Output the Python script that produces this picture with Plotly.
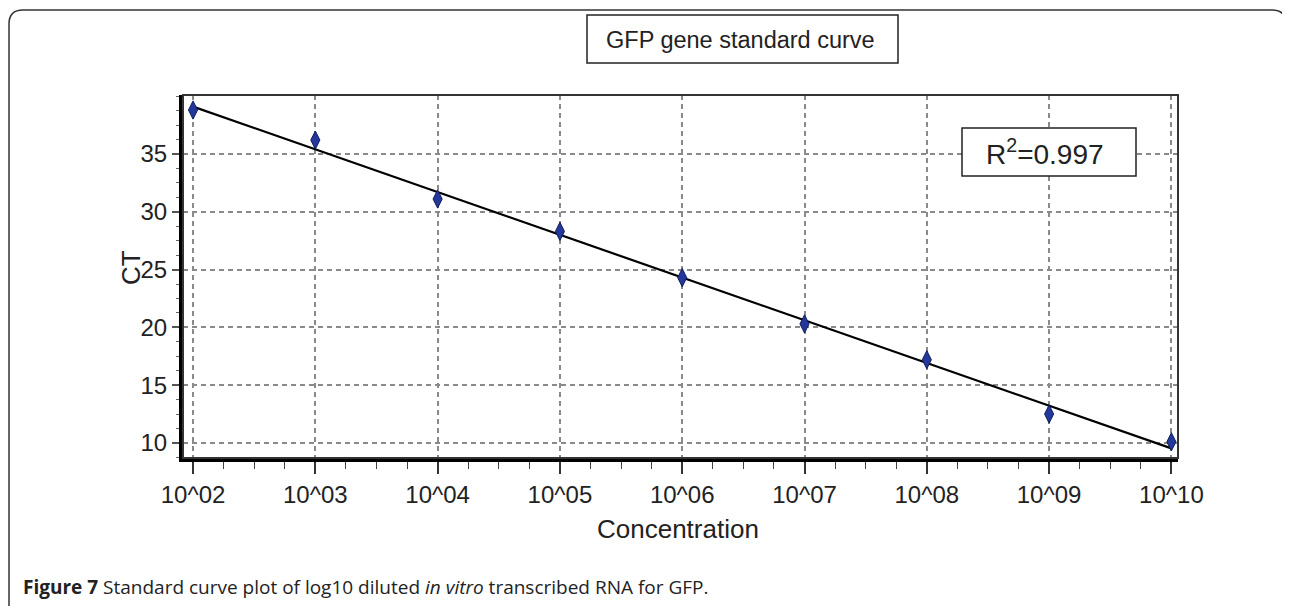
import numpy as np
import plotly.graph_objects as go

# ---- data ----
log_conc = [2, 3, 4, 5, 6, 7, 8, 9, 10]
tick_labels = ["10^02", "10^03", "10^04", "10^05", "10^06", "10^07", "10^08", "10^09", "10^10"]
ct_values = [38.8, 36.2, 31.1, 28.3, 24.3, 20.3, 17.2, 12.5, 10.1]
y_ticks = [10, 15, 20, 25, 30, 35]
title_text = "GFP gene standard curve"
r2_text = "R<sup>2</sup>=0.997"
x_title = "Concentration"
y_title = "CT"
caption = "<b>Figure 7</b> Standard curve plot of log10 diluted <i>in vitro</i> transcribed RNA for GFP."

# linear standard-curve fit
slope, intercept = np.polyfit(log_conc, ct_values, 1)
fit_x = [log_conc[0], log_conc[-1]]
fit_y = [slope * v + intercept for v in fit_x]

OFF = 8  # page body margin
W, H = 1290, 606
# plot area in screen coords
SL, SR, ST, SB = 183, 1178, 95, 458
L, R, T, B = SL - OFF, SR - OFF, ST - OFF, SB - OFF
pw, ph = R - L, B - T

def px(x):  # screen x -> paper
    return (x - OFF - L) / pw

def py(y):  # screen y -> paper
    return (B - (y - OFF)) / ph

fig = go.Figure()
fig.add_trace(go.Scatter(x=fit_x, y=fit_y, mode="lines",
                         line=dict(color="black", width=2.2), showlegend=False))
fig.add_trace(go.Scatter(x=log_conc, y=ct_values, mode="markers",
                         marker=dict(symbol="diamond-tall", size=13, color="#23389a",
                                     line=dict(color="#101c5c", width=1)),
                         showlegend=False))

fam = "Liberation Sans, Arial"
tick_font = dict(family=fam, size=24, color="#222")
title_font = dict(family=fam, size=26, color="#222")

fig.update_xaxes(range=[1.918, 10.054], tickvals=log_conc, ticktext=tick_labels,
                 showgrid=True, gridcolor="#8a8a8a", gridwidth=1.5, griddash="5px,4px",
                 showline=True, linecolor="black", linewidth=4,
                 ticks="outside", ticklen=12, tickwidth=1.5, tickcolor="#333",
                 minor=dict(dtick=0.25, tick0=2, ticks="outside", ticklen=7, tickwidth=1.2,
                            tickcolor="#444", showgrid=False),
                 tickfont=tick_font, zeroline=False)
fig.update_yaxes(range=[8.7, 40.1], tickvals=y_ticks,
                 showgrid=True, gridcolor="#8a8a8a", gridwidth=1.5, griddash="5px,4px",
                 showline=True, linecolor="black", linewidth=4,
                 ticks="outside", ticklen=7, tickwidth=1.5, tickcolor="#555",
                 minor=dict(dtick=1.25, tick0=10, ticks="outside", ticklen=3, tickwidth=1.2,
                            tickcolor="#666", showgrid=False),
                 tickfont=tick_font, zeroline=False)

shapes = []
# top/right thinner frame of plot area
shapes.append(dict(type="rect", xref="x domain", yref="y domain", x0=0, x1=1, y0=0, y1=1,
                   line=dict(color="#333", width=2), layer="above"))
# outer rounded frame (open at the bottom)
x0, x1, y0, yb = px(9), px(1286), py(10), py(660)
rx, ry = 14 / pw, 14 / ph
path = (f"M {x0} {yb} L {x0} {y0 - ry} Q {x0} {y0} {x0 + rx} {y0} "
        f"L {x1 - rx} {y0} Q {x1} {y0} {x1} {y0 - ry} L {x1} {yb}")
shapes.append(dict(type="path", xref="paper", yref="paper", path=path,
                   line=dict(color="#333", width=1.5)))
# title box
shapes.append(dict(type="rect", xref="paper", yref="paper", x0=px(587), x1=px(898),
                   y0=py(63), y1=py(15), line=dict(color="#222", width=1.5), fillcolor="white"))
# R^2 box
shapes.append(dict(type="rect", xref="paper", yref="paper", x0=px(962), x1=px(1136),
                   y0=py(176), y1=py(128), line=dict(color="#222", width=1.5), fillcolor="white",
                   layer="above"))

annotations = [
    dict(text=title_text, xref="paper", yref="paper", x=px(740), y=py(40),
         showarrow=False, xanchor="center", yanchor="middle",
         font=dict(family=fam, size=23.5, color="#222")),
    dict(text=r2_text, xref="paper", yref="paper", x=px(1045), y=py(152),
         showarrow=False, xanchor="center", yanchor="middle",
         font=dict(family=fam, size=28, color="#222")),
    dict(text=x_title, xref="paper", yref="paper", x=px(678), y=py(529),
         showarrow=False, xanchor="center", yanchor="middle", font=title_font),
    dict(text=y_title, xref="paper", yref="paper", x=px(131), y=py(268),
         showarrow=False, xanchor="center", yanchor="middle", textangle=-90, font=title_font),
    dict(text=caption, xref="paper", yref="paper", x=px(21), y=py(587),
         showarrow=False, xanchor="left", yanchor="middle",
         font=dict(family="Open Sans, Lato, sans-serif", size=19, color="#222")),
]

fig.update_layout(width=W, height=H, margin=dict(l=L, r=W - R, t=T, b=H - B),
                  paper_bgcolor="white", plot_bgcolor="white",
                  shapes=shapes, annotations=annotations)

fig.write_html("out.html")
